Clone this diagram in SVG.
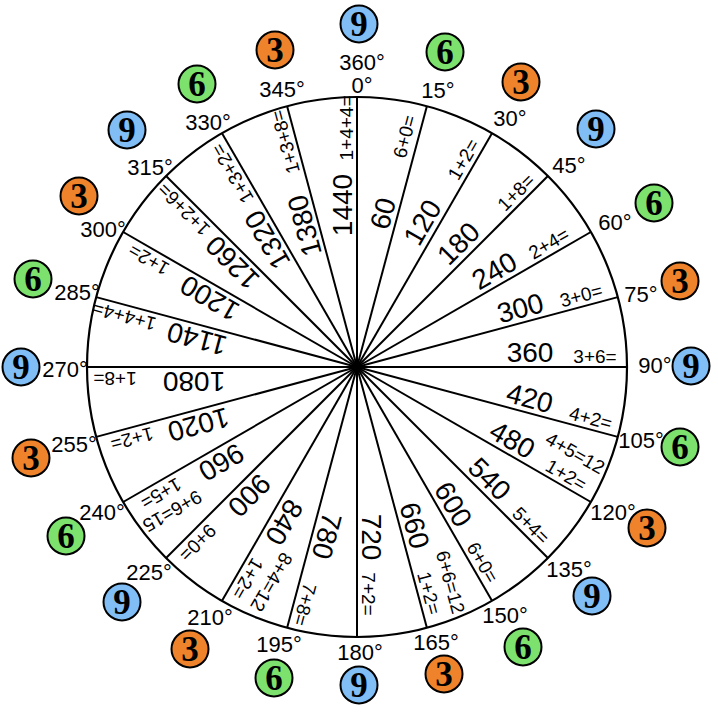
<svg xmlns="http://www.w3.org/2000/svg" width="718" height="715" viewBox="0 0 718 715">
<style>
.ln{stroke:#000;stroke-width:2;fill:none}
.rim{stroke:#000;stroke-width:2.2;fill:none}
.num{font-family:"Liberation Sans",Arial,sans-serif;font-size:28px;text-anchor:middle;fill:#000}
.sum{font-family:"Liberation Sans",Arial,sans-serif;font-size:19px;text-anchor:middle;fill:#000}
.deg{font-family:"Liberation Sans",Arial,sans-serif;font-size:22px;text-anchor:middle;fill:#000}
.b{stroke:#000;stroke-width:2}
.o{fill:#EE832C}.bl{fill:#80BEF5}.g{fill:#7DE16E}
.bd{font-family:"Liberation Serif","Times New Roman",serif;font-weight:bold;font-size:35px;text-anchor:middle;fill:#000}
</style>
<rect width="718" height="715" fill="#fff"/>
<circle class="rim" cx="357" cy="367" r="270"/>
<g id="connectors" class="ln">
<line x1="357" y1="367" x2="357" y2="97"/>
<line x1="357" y1="367" x2="426.88" y2="106.2"/>
<line x1="357" y1="367" x2="492" y2="133.17"/>
<line x1="357" y1="367" x2="547.92" y2="176.08"/>
<line x1="357" y1="367" x2="590.83" y2="232"/>
<line x1="357" y1="367" x2="617.8" y2="297.12"/>
<line x1="357" y1="367" x2="627" y2="367"/>
<line x1="357" y1="367" x2="617.8" y2="436.88"/>
<line x1="357" y1="367" x2="590.83" y2="502"/>
<line x1="357" y1="367" x2="547.92" y2="557.92"/>
<line x1="357" y1="367" x2="492" y2="600.83"/>
<line x1="357" y1="367" x2="426.88" y2="627.8"/>
<line x1="357" y1="367" x2="357" y2="637"/>
<line x1="357" y1="367" x2="287.12" y2="627.8"/>
<line x1="357" y1="367" x2="222" y2="600.83"/>
<line x1="357" y1="367" x2="166.08" y2="557.92"/>
<line x1="357" y1="367" x2="123.17" y2="502"/>
<line x1="357" y1="367" x2="96.2" y2="436.88"/>
<line x1="357" y1="367" x2="87" y2="367"/>
<line x1="357" y1="367" x2="96.2" y2="297.12"/>
<line x1="357" y1="367" x2="123.17" y2="232"/>
<line x1="357" y1="367" x2="166.08" y2="176.08"/>
<line x1="357" y1="367" x2="222" y2="133.17"/>
<line x1="357" y1="367" x2="287.12" y2="106.2"/>
</g>
<circle cx="357" cy="367" r="3.5" fill="#000"/>

<g id="s1" transform="rotate(-75 357 367)"><text class="num" x="512" y="362">60</text><text class="sum" x="592" y="360">6+0=</text></g>
<g id="s2" transform="rotate(-60 357 367)"><text class="num" x="515" y="361">120</text><text class="sum" x="590" y="362">1+2=</text></g>
<g id="s3" transform="rotate(-45 357 367)"><text class="num" x="516" y="361">180</text><text class="sum" x="593" y="362.5">1+8=</text></g>
<g id="s4" transform="rotate(-30 357 367)"><text class="num" x="524" y="362">240</text><text class="sum" x="585" y="362.5">2+4=</text></g>
<g id="s5" transform="rotate(-15 357 367)"><text class="num" x="530" y="362">300</text><text class="sum" x="592" y="362.5">3+0=</text></g>
<g id="s6"><text class="num" x="530" y="362">360</text><text class="sum" x="595" y="362.5">3+6=</text></g>
<g id="s7" transform="rotate(15 357 367)"><text class="num" x="532" y="362">420</text><text class="sum" x="596" y="362.5">4+2=</text></g>
<g id="s8" transform="rotate(30 357 367)"><text class="num" x="528" y="362">480</text><text class="sum" x="589" y="339">4+5=12</text><text class="sum" x="592" y="362.5">1+2=</text></g>
<g id="s9" transform="rotate(45 357 367)"><text class="num" x="530" y="362">540</text><text class="sum" x="592" y="362.5">5+4=</text></g>
<g id="s10" transform="rotate(60 357 367)"><text class="num" x="524" y="362">600</text><text class="sum" x="589" y="362.5">6+0=</text></g>
<g id="s11" transform="rotate(75 357 367)"><text class="num" x="525" y="362">660</text><text class="sum" x="589" y="339">6+6=12</text><text class="sum" x="594" y="362.5">1+2=</text></g>
<g id="s12" transform="rotate(90 357 367)"><text class="num" x="527" y="362">720</text><text class="sum" x="584" y="362.5">7+2=</text></g>
<g id="s13" transform="rotate(105 357 367)"><text class="num" x="528" y="362">780</text><text class="sum" x="600" y="362.5">7+8=</text></g>
<g id="s14" transform="rotate(120 357 367)"><text class="num" x="528" y="362">840</text><text class="sum" x="586" y="340">8+4=12</text><text class="sum" x="595" y="362.5">1+2=</text></g>
<g id="s15" transform="rotate(135 357 367)"><text class="num" x="524" y="362">900</text><text class="sum" x="594" y="362">9+0=</text></g>
<g id="s16" transform="rotate(150 357 367)"><text class="num" x="522" y="362">960</text><text class="sum" x="589" y="341">9+6=15</text><text class="sum" x="590" y="362">1+5=</text></g>
<g id="s17" transform="rotate(165 357 367)"><text class="num" x="525" y="362">1020</text><text class="sum" x="593" y="362.5">1+2=</text></g>
<g id="s18" transform="rotate(180 357 367)"><text class="num" x="520" y="362">1080</text><text class="sum" x="599" y="362.5">1+8=</text></g>
<g id="s19" transform="rotate(195 357 367)"><text class="num" x="519" y="362.5">1140</text><text class="sum" x="595" y="362.5">1+4+4=</text></g>
<g id="s20" transform="rotate(210 357 367)"><text class="num" x="519" y="362.5">1200</text><text class="sum" x="591" y="362.5">1+2=</text></g>
<g id="s21" transform="rotate(225 357 367)"><text class="num" x="519" y="362.5">1260</text><text class="sum" x="591" y="362.5">1+2+6=</text></g>
<g id="s22" transform="rotate(240 357 367)"><text class="num" x="512" y="362.5">1320</text><text class="sum" x="587" y="362.5">1+3+2=</text></g>
<g id="s23" transform="rotate(255 357 367)"><text class="num" x="507" y="362.5">1380</text><text class="sum" x="593" y="362.5">1+3+8=</text></g>
<g id="s24" transform="rotate(270 357 367)"><text class="num" x="519" y="362">1440</text><text class="sum" x="596" y="362.5">1+4+4=</text></g>

<g id="a0"><text class="deg" x="362" y="70">360°</text><text class="deg" x="362" y="93">0°</text><circle class="b bl" cx="359" cy="24" r="18.5"/><text class="bd" x="359" y="36">9</text></g>
<g id="a15"><text class="deg" x="438" y="98">15°</text><circle class="b g" cx="445" cy="52" r="18.5"/><text class="bd" x="445" y="64">6</text></g>
<g id="a30"><text class="deg" x="510" y="126">30°</text><circle class="b o" cx="521" cy="82" r="18.5"/><text class="bd" x="521" y="94">3</text></g>
<g id="a45"><text class="deg" x="569" y="173">45°</text><circle class="b bl" cx="596" cy="129" r="18.5"/><text class="bd" x="596" y="141">9</text></g>
<g id="a60"><text class="deg" x="615" y="230">60°</text><circle class="b g" cx="654" cy="203" r="18.5"/><text class="bd" x="654" y="215">6</text></g>
<g id="a75"><text class="deg" x="641" y="302">75°</text><circle class="b o" cx="680" cy="281" r="18.5"/><text class="bd" x="680" y="293">3</text></g>
<g id="a90"><text class="deg" x="655" y="373">90°</text><circle class="b bl" cx="691" cy="366" r="18.5"/><text class="bd" x="691" y="378">9</text></g>
<g id="a105"><text class="deg" x="641" y="448">105°</text><circle class="b g" cx="680" cy="447" r="18.5"/><text class="bd" x="680" y="459">6</text></g>
<g id="a120"><text class="deg" x="613" y="520">120°</text><circle class="b o" cx="647" cy="528" r="18.5"/><text class="bd" x="647" y="540">3</text></g>
<g id="a135"><text class="deg" x="569" y="577">135°</text><circle class="b bl" cx="592" cy="596" r="18.5"/><text class="bd" x="592" y="608">9</text></g>
<g id="a150"><text class="deg" x="505" y="623">150°</text><circle class="b g" cx="523" cy="647" r="18.5"/><text class="bd" x="523" y="659">6</text></g>
<g id="a165"><text class="deg" x="436" y="650">165°</text><circle class="b o" cx="444" cy="674" r="18.5"/><text class="bd" x="444" y="686">3</text></g>
<g id="a180"><text class="deg" x="360" y="660">180°</text><circle class="b bl" cx="359" cy="685" r="18.5"/><text class="bd" x="359" y="697">9</text></g>
<g id="a195"><text class="deg" x="279" y="652">195°</text><circle class="b g" cx="274" cy="678" r="18.5"/><text class="bd" x="274" y="690">6</text></g>
<g id="a210"><text class="deg" x="210" y="625">210°</text><circle class="b o" cx="190" cy="649" r="18.5"/><text class="bd" x="190" y="661">3</text></g>
<g id="a225"><text class="deg" x="149" y="580">225°</text><circle class="b bl" cx="122" cy="602" r="18.5"/><text class="bd" x="122" y="614">9</text></g>
<g id="a240"><text class="deg" x="102" y="520">240°</text><circle class="b g" cx="66" cy="536" r="18.5"/><text class="bd" x="66" y="548">6</text></g>
<g id="a255"><text class="deg" x="74" y="452">255°</text><circle class="b o" cx="31" cy="458" r="18.5"/><text class="bd" x="31" y="470">3</text></g>
<g id="a270"><text class="deg" x="65" y="377">270°</text><circle class="b bl" cx="21" cy="367" r="18.5"/><text class="bd" x="21" y="379">9</text></g>
<g id="a285"><text class="deg" x="77" y="300">285°</text><circle class="b g" cx="33" cy="279" r="18.5"/><text class="bd" x="33" y="291">6</text></g>
<g id="a300"><text class="deg" x="103" y="237">300°</text><circle class="b o" cx="79" cy="196" r="18.5"/><text class="bd" x="79" y="208">3</text></g>
<g id="a315"><text class="deg" x="150" y="175">315°</text><circle class="b bl" cx="127" cy="130" r="18.5"/><text class="bd" x="127" y="142">9</text></g>
<g id="a330"><text class="deg" x="208" y="130">330°</text><circle class="b g" cx="197" cy="84" r="18.5"/><text class="bd" x="197" y="96">6</text></g>
<g id="a345"><text class="deg" x="282" y="97">345°</text><circle class="b o" cx="275" cy="50" r="18.5"/><text class="bd" x="275" y="62">3</text></g>
</svg>
